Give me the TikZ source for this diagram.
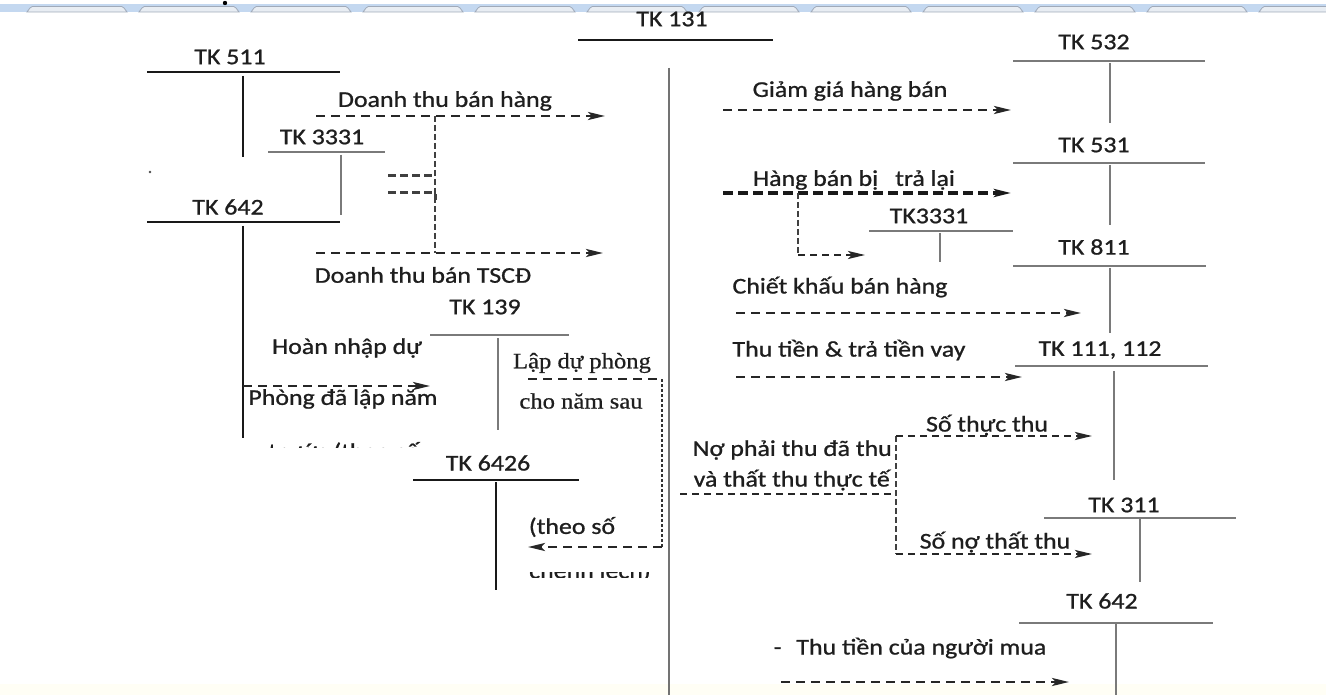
\documentclass[tikz,border=0pt]{standalone}
\usepackage{fontspec}
\setmainfont{Carlito}[FakeStretch=1.15,FakeBold=0.9]
\newfontfamily\tnrfont{Liberation Serif}[FakeStretch=1.12,FakeBold=0.6]
\usetikzlibrary{arrows.meta}

% T-account: name, style, line y, left x, right x, stem x, stem top, stem bottom
\newcommand\tacc[8]{%
  \coordinate (#1-l) at (#4,#3); \coordinate (#1-r) at (#5,#3);
  \coordinate (#1-t) at (#6,#7); \coordinate (#1-b) at (#6,#8);
  \draw[#2] (#1-l) -- (#1-r);
  \draw[#2] (#1-t) -- (#1-b);}

\definecolor{bandblue}{RGB}{196,216,240}
\definecolor{tabfill}{RGB}{232,237,243}
\definecolor{tabedge}{RGB}{160,170,185}
\definecolor{txt}{RGB}{30,30,30}

\tikzset{
  lbl/.style={font=\fontsize{22.5}{26}\selectfont, text=txt, inner sep=0pt},
  serlbl/.style={font=\tnrfont\fontsize{22}{26}\selectfont, text=txt, inner sep=0pt},
  tgray/.style={line width=2pt, draw=black!52},
  tdark/.style={line width=2.3pt, draw=black!90},
  tip/.style={-{Stealth[length=17pt,width=8pt,inset=4pt]}},
  flow/.style={line width=2.8pt, draw=black!85, dash pattern=on 9pt off 6pt, tip},
  boldflow/.style={line width=3.6pt, draw=black!90, dash pattern=on 10pt off 5pt, tip},
  thinflow/.style={line width=2.3pt, draw=black!85, dash pattern=on 7pt off 5pt, tip},
  link/.style={line width=1.3pt, draw=black!75, dash pattern=on 6pt off 3pt},
  linkthick/.style={line width=3pt, draw=black!75, dash pattern=on 8pt off 4pt},
  dots/.style={line width=2.6pt, draw=black!80, dash pattern=on 3pt off 2pt},
}

\begin{document}
\begin{tikzpicture}[x=1pt,y=-1pt]
\useasboundingbox (0,0) rectangle (1326,695);
\fill[white] (0,0) rectangle (1326,695);

% tab strip along the top edge
\fill[bandblue] (0,4) rectangle (1326,12);
\foreach \tx in {27,139,251,363,475,587,699,811,923,1035,1147,1259}{
  \filldraw[fill=tabfill, draw=tabedge, line width=0.8pt]
    (\tx,12) -- (\tx+3,8) to[out=60,in=180] (\tx+8,6.5) -- (\tx+92,6.5)
    to[out=0,in=120] (\tx+97,8) -- (\tx+100,12) -- cycle;
}
\fill[black] (225,3) circle (2.2pt);
% faint strip along the bottom edge
\fill[yellow!4] (0,684) rectangle (1326,695);

% ---------- central account TK 131 ----------
\node[lbl] (n131) at (672,19) {TK 131};
\coordinate (c131l) at (578,40); \coordinate (c131r) at (773,40);
\draw[tdark] (c131l) -- (c131r);
\coordinate (c131t) at (669,68); \coordinate (c131b) at (669,695);
\draw[line width=2.8pt, draw=black!55] (c131t) -- (c131b);

% ---------- left side ----------
\node[lbl] (n511) at (230,57) {TK 511};
\tacc{t511}{tdark}{72}{147}{340}{243}{76}{157}

\node[lbl] (n3331a) at (322,137) {TK 3331};
\tacc{t3331a}{tgray}{152}{268}{385}{341}{155}{215}

\fill[black!70] (150,172) circle (1.3pt);

\node[lbl] (n642a) at (228,207) {TK 642};
\tacc{t642a}{tdark}{222}{147}{340}{243}{226}{438}

\node[lbl] (ldtbh) at (445,101) {Doanh thu bán hàng};
\coordinate (a1s) at (316,116); \coordinate (a1e) at (605,116);
\draw[flow] (a1s) -- (a1e);

\coordinate (v1t) at (435,116); \coordinate (v1b) at (435,253);
\draw[link] (v1t) -- (v1b);
\coordinate (s1s) at (388,176); \coordinate (s1e) at (435,176);
\draw[linkthick] (s1s) -- (s1e);
\coordinate (s2s) at (388,193); \coordinate (s2e) at (435,193);
\coordinate (s2d) at (435,200);
\draw[linkthick] (s2s) -- (s2e) -- (s2d);

\coordinate (a2s) at (316,253); \coordinate (a2e) at (603,253);
\draw[flow] (a2s) -- (a2e);
\node[lbl] (ldtts) at (423,275) {Doanh thu bán TSCĐ};

\node[lbl] (n139) at (485,307) {TK 139};
\tacc{t139}{tgray}{335}{430}{569}{498}{338}{430}

\node[lbl] (lhnd) at (347,348) {Hoàn nhập dự};
\coordinate (a3s) at (243,386); \coordinate (a3e) at (430,386);
\draw[flow] (a3s) -- (a3e);
\node[lbl] (lpdl) at (343,399) {Phòng đã lập năm};
% continuation line, cut off along its lower edge
\begin{scope}
  \clip (260,438) rectangle (430,447);
  \node[lbl] (ltruoc) at (344,452) {trước (theo số};
\end{scope}

\node[serlbl] (lldp) at (582,363) {Lập dự phòng};
\node[serlbl] (lcns) at (581,401) {cho năm sau};
\coordinate (p1) at (528,379); \coordinate (p2) at (662,379);
\coordinate (p3) at (662,547); \coordinate (p4) at (528,547);
\draw[flow, -] (p1) -- (p2);
\draw[dots] (p2) -- (p3);
\draw[flow] (p3) -- (p4);

\node[lbl] (n6426) at (488,463) {TK 6426};
\tacc{t6426}{tdark}{480}{413}{579}{496}{482}{590}
\node[lbl] (ltheo) at (572,527) {(theo số};
% continuation line, only a thin slice shows
\begin{scope}
  \clip (525,572) rectangle (655,577);
  \node[lbl] (lchenh) at (590,572) {chênh lệch)};
\end{scope}

% ---------- right side ----------
\node[lbl] (n532) at (1094,42) {TK 532};
\tacc{t532}{tgray}{61}{1013}{1205}{1110}{63}{123}
\node[lbl] (lggb) at (850,91) {Giảm giá hàng bán};
\coordinate (b1s) at (723,110); \coordinate (b1e) at (1011,110);
\draw[flow] (b1s) -- (b1e);

\node[lbl] (n531) at (1094,145) {TK 531};
\tacc{t531}{tgray}{163}{1013}{1205}{1110}{165}{225}
\node[lbl] (lhbtl) at (854,180) {Hàng bán bị\hspace{0.5em} trả lại};
\coordinate (b2s) at (723,193); \coordinate (b2e) at (1011,193);
\draw[boldflow] (b2s) -- (b2e);
\coordinate (b2d) at (798,193); \coordinate (b2c) at (798,255);
\coordinate (b2f) at (865,255);
\draw[link] (b2d) -- (b2c);
\draw[thinflow] (b2c) -- (b2f);

\node[lbl] (n3331b) at (929,216) {TK3331};
\tacc{t3331b}{tgray}{231}{869}{1013}{940}{233}{262}

\node[lbl] (n811) at (1094,247) {TK 811};
\tacc{t811}{tgray}{266}{1013}{1206}{1110}{268}{333}
\node[lbl] (lckbh) at (840,287) {Chiết khấu bán hàng};
\coordinate (b3s) at (736,313); \coordinate (b3e) at (1081,313);
\draw[flow] (b3s) -- (b3e);

\node[lbl] (lttv) at (849,350) {Thu tiền \& trả tiền vay};
\coordinate (b4s) at (736,377); \coordinate (b4e) at (1022,377);
\draw[flow] (b4s) -- (b4e);
\node[lbl] (n111) at (1100,350) {TK 111, 112};
\tacc{t111}{tgray}{366}{1015}{1208}{1114}{371}{480}

\node[lbl, anchor=east] (lnpt) at (892,450) {Nợ phải thu đã thu};
\node[lbl, anchor=east] (lttt) at (890,480) {và thất thu thực tế};
\coordinate (q0) at (680,494); \coordinate (q1) at (896,494);
\coordinate (q2) at (896,436); \coordinate (q3) at (896,554);
\coordinate (q4) at (1092,436); \coordinate (q5) at (1092,554);
\draw[thinflow, -] (q0) -- (q1);
\draw[link] (q2) -- (q3);
\draw[thinflow] (q2) -- (q4);
\draw[thinflow] (q3) -- (q5);
\node[lbl] (lstt) at (987,425) {Số thực thu};
\node[lbl] (lsnt) at (995,542) {Số nợ thất thu};

\node[lbl] (n311) at (1124,505) {TK 311};
\tacc{t311}{tgray}{518}{1044}{1236}{1140}{518}{582}

\node[lbl] (n642b) at (1102,601) {TK 642};
\tacc{t642b}{tgray}{623}{1019}{1213}{1116}{623}{695}
\node[lbl] (lttm) at (910,648) {-\hspace{0.4em} Thu tiền của người mua};
\coordinate (b5s) at (781,682); \coordinate (b5e) at (1069,682);
\draw[flow] (b5s) -- (b5e);
\end{tikzpicture}
\end{document}
